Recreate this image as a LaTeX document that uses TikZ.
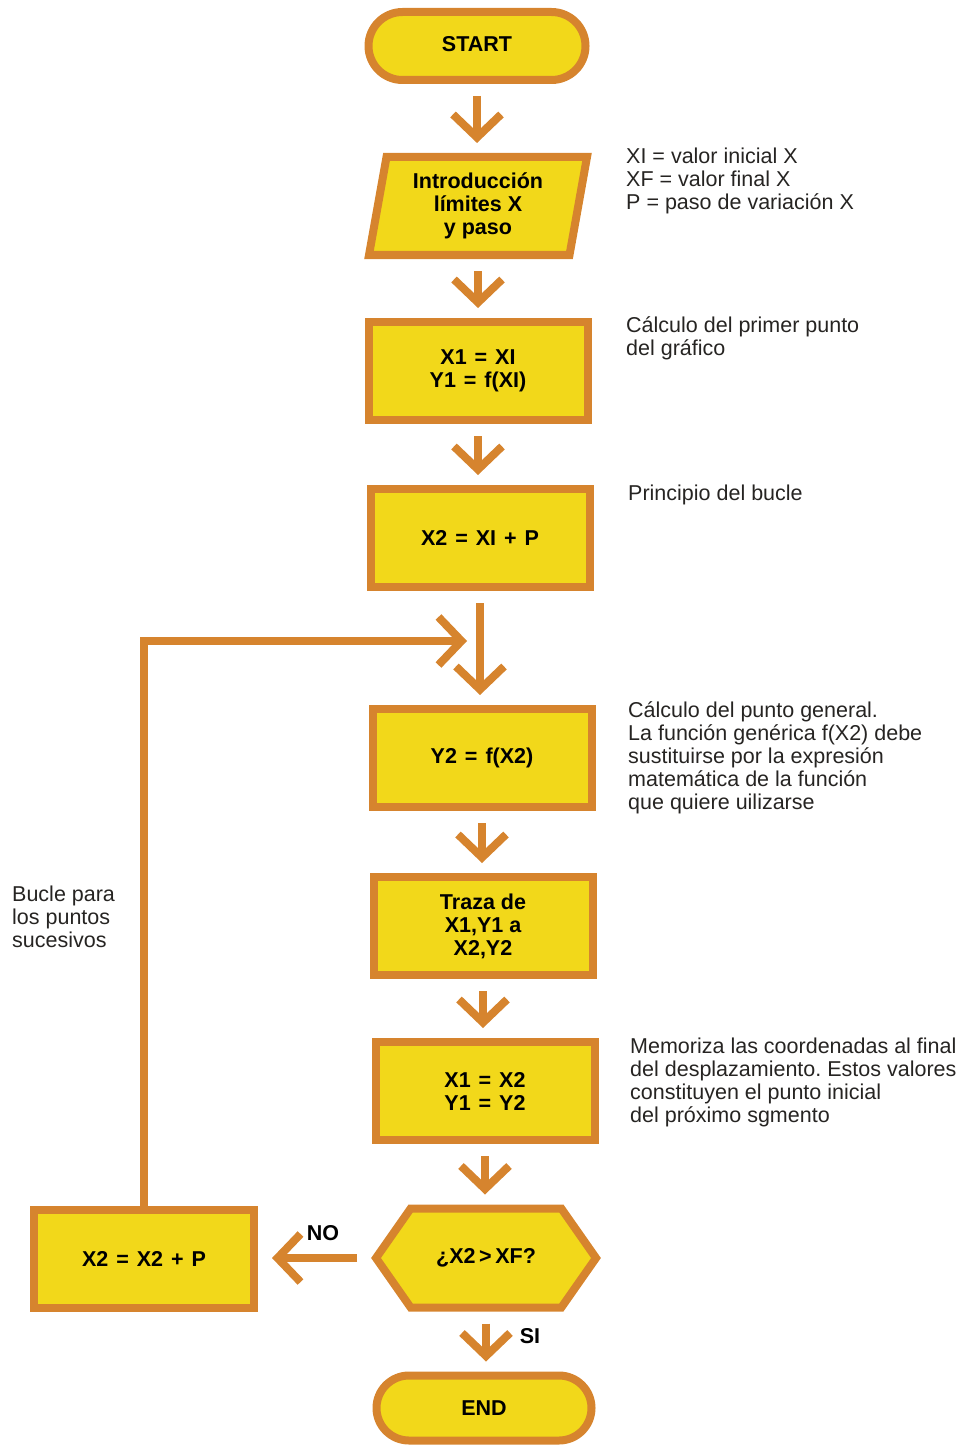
\documentclass[tikz,border=0pt]{standalone}
\usepackage{fontspec}
\setmainfont{Liberation Sans}
\usetikzlibrary{arrows.meta,shapes.misc,shapes.geometric,shapes.symbols}
\frenchspacing

\definecolor{naranja}{RGB}{214,132,46}
\definecolor{amarillo}{RGB}{242,216,26}
\definecolor{tinta}{RGB}{38,36,34}

%% operatori un po' piu' larghi nei blocchi (spazi compresi)
\newcommand{\opeq}{\kern2pt\ =\ \kern2pt}
\newcommand{\oppiu}{\kern2pt\ +\ \kern2pt}

\begin{document}
\begin{tikzpicture}[
	x=1pt, y=-1pt,
	bloque/.style={draw=naranja, fill=amarillo, line width=8pt, inner sep=2pt,
		align=center, text=black, font=\fontsize{21.5}{23}\selectfont\bfseries},
	caja/.style={bloque, rectangle, minimum width=219pt, minimum height=98pt},
	terminal/.style={bloque, rounded rectangle, minimum width=221pt, minimum height=68pt},
	entrada/.style={bloque, trapezium, trapezium left angle=76, trapezium right angle=104,
		trapezium stretches body, minimum width=218pt, minimum height=98pt},
	decision/.style={bloque, signal, signal to=west and east, signal pointer angle=110,
		minimum width=220pt, minimum height=99pt},
	flecha/.style={draw=naranja, line width=8pt, line join=miter,
		-{Straight Barb[length=23pt, width=48pt]}, shorten <=12pt, shorten >=10pt},
	nota/.style={anchor=north west, inner sep=0pt, align=left, text=tinta,
		font=\fontsize{21.5}{23}\selectfont},
	etiq/.style={inner sep=0pt, font=\fontsize{21.5}{23}\selectfont\bfseries},
	]
	\useasboundingbox (0,0) rectangle (966,1447);
	
	%% =========================================================
	%% colonna principale
	%% =========================================================
	\node[terminal, text depth=4pt] (inicio) at (477,46) {START};
	\node[entrada]  (datos)     at (478,206)  {Introducción\\límites X\\y paso};
	\node[caja]     (primero)   at (478,371)  {X1\opeq XI\\Y1\opeq f(XI)};
	\node[caja]     (avance)    at (480,538)  {X2\opeq XI\oppiu P};
	\node[caja]     (funcion)   at (482,758)  {Y2\opeq f(X2)};
	\node[caja]     (traza)     at (483,926)  {Traza de\\X1,Y1 a\\X2,Y2};
	\node[caja]     (memoria)   at (485,1091) {X1\opeq X2\\Y1\opeq Y2};
	\node[decision] (prueba)    at (486,1258) {¿X2\,>\,XF?};
	\node[terminal, minimum width=219pt, minimum height=65pt] (fin) at (484,1408) {END};
	%% ramo di ritorno
	\node[caja, minimum width=220pt] (incremento) at (144,1259) {X2\opeq X2\oppiu P};
	
	%% frecce verticali
	\foreach \a/\b in {inicio/datos, datos/primero, primero/avance, avance/funcion,
		funcion/traza, traza/memoria, memoria/prueba, prueba/fin}
	\draw[flecha] (\a.south) -- (\a.south |- \b.north);
	
	%% ramo NO e ciclo
	\draw[flecha, shorten <=14pt, shorten >=14pt] (prueba.west) -- (prueba.west -| incremento.east);
	\coordinate (rientro) at (467,641);
	\draw[flecha, shorten <=0pt, shorten >=0pt] (incremento.north) |- (rientro);
	
	\node[etiq] (no) at (323,1233) {NO};
	\node[etiq] (si) at (530,1336) {SI};
	
	%% note a lato
	\node[nota] (n1) at (626,148)  {XI = valor inicial X\\XF = valor final X\\P = paso de variación X};
	\node[nota] (n2) at (626,316)  {Cálculo del primer punto\\del gráfico};
	\node[nota] (n3) at (628,485)  {Principio del bucle};
	\node[nota] (n4) at (628,701)  {Cálculo del punto general.\\La función genérica f(X2) debe\\sustituirse por la expresión\\matemática de la función\\que quiere uilizarse};
	\node[nota] (n5) at (630,1038) {Memoriza las coordenadas al final\\del desplazamiento. Estos valores\\constituyen el punto inicial\\del próximo sgmento};
	\node[nota] (n6) at (12,886)   {Bucle para\\los puntos\\sucesivos};
\end{tikzpicture}
\end{document}
